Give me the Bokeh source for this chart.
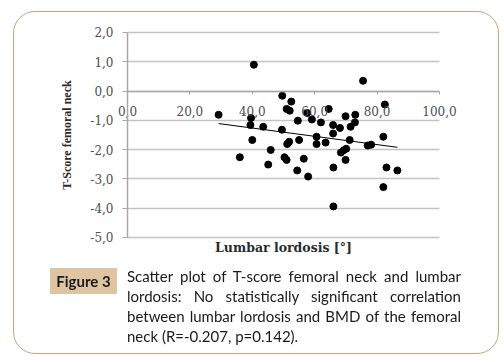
from bokeh.plotting import figure
from bokeh.models import Range1d, Label, Div, FixedTicker
from bokeh.layouts import column
from bokeh.embed import file_html
from bokeh.resources import INLINE

# Data
lordosis = [40.5, 75.5, 49.6, 52.5, 82.5, 64.5, 51.0, 52.0, 29.2, 57.6,
            69.9, 73.0, 39.6, 59.1, 54.6, 62.0, 72.9, 39.4, 43.5, 65.9,
            68.1, 71.5, 49.5, 65.9, 82.0, 60.6, 40.0, 55.0, 51.8, 51.2,
            71.2, 63.5, 60.6, 77.0, 78.1, 45.9, 70.1, 69.3, 68.4, 36.0,
            50.3, 51.0, 56.5, 69.9, 45.1, 54.4, 66.0, 83.0, 86.5, 57.9,
            82.0, 66.0]
tscore = [0.90, 0.35, -0.16, -0.36, -0.46, -0.61, -0.61, -0.67, -0.81, -0.75,
          -0.86, -0.81, -0.92, -0.97, -1.01, -1.07, -1.07, -1.16, -1.22, -1.16,
          -1.26, -1.22, -1.32, -1.45, -1.56, -1.56, -1.67, -1.67, -1.73, -1.81,
          -1.67, -1.76, -1.81, -1.86, -1.83, -2.01, -1.97, -2.02, -2.10, -2.26,
          -2.26, -2.35, -2.31, -2.35, -2.51, -2.71, -2.61, -2.61, -2.71, -2.92,
          -3.28, -3.94]
trend_x = [29.2, 86.5]
trend_y = [-1.11, -1.92]

x_min, x_max = 0, 100
y_min, y_max = -5, 2
x_ticks = [0, 20, 40, 60, 80, 100]
x_tick_labels = ["0,0", "20,0", "40,0", "60,0", "80,0", "100,0"]
y_ticks = [-5, -4, -3, -2, -1, 0, 1, 2]
y_tick_labels = ["-5,0", "-4,0", "-3,0", "-2,0", "-1,0", "0,0", "1,0", "2,0"]

x_title = "Lumbar lordosis [°]"
y_title = "T-Score femoral neck"
fig_tag = "Figure 3"
caption = ("Scatter plot of T-score femoral neck and lumbar lordosis: No statistically "
           "significant correlation between lumbar lordosis and BMD of the femoral neck "
           "(R=-0.207, p=0.142).")

# The frame covers the whole canvas; axes sit at fixed locations (Excel-style crossing at 0)
p = figure(width=484, height=250,
           x_range=Range1d(-36.54, 118.59), y_range=Range1d(-5.82, 2.717),
           output_backend="svg", toolbar_location=None,
           min_border_left=0, min_border_right=0, min_border_top=0, min_border_bottom=0)
p.border_fill_color = None
p.background_fill_color = None
p.outline_line_color = None

p.xgrid.visible = False
yg = p.ygrid[0]
yg.ticker = FixedTicker(ticks=y_ticks)
yg.grid_line_color = "#c4c4c4"
yg.grid_line_width = 1.5
yg.bounds = (y_min, y_max)
if "cross_bounds" in yg.properties():
    yg.cross_bounds = (x_min, x_max)

xa = p.xaxis[0]
xa.fixed_location = 0
xa.bounds = (x_min, x_max)
xa.ticker = FixedTicker(ticks=x_ticks)
xa.major_label_overrides = dict(zip(x_ticks, x_tick_labels))
xa.minor_tick_line_color = None
xa.major_tick_out = 3
xa.major_tick_in = 0
xa.major_label_standoff = 12
xa.axis_line_color = "#a8a8a8"
xa.axis_line_width = 1.5
xa.major_tick_line_color = "#a8a8a8"
xa.major_label_text_font = "DejaVu Serif"
xa.major_label_text_font_size = "12px"
xa.major_label_text_color = "#4d4d4d"

ya = p.yaxis[0]
ya.fixed_location = 0
ya.bounds = (y_min, y_max)
ya.ticker = FixedTicker(ticks=y_ticks)
ya.major_label_overrides = dict(zip(y_ticks, y_tick_labels))
ya.minor_tick_line_color = None
ya.major_tick_out = 5
ya.major_tick_in = 0
ya.major_label_standoff = 9
ya.axis_line_color = "#a8a8a8"
ya.axis_line_width = 1.5
ya.major_tick_line_color = "#a8a8a8"
ya.major_label_text_font = "DejaVu Serif"
ya.major_label_text_font_size = "12px"
ya.major_label_text_color = "#4d4d4d"
ya.axis_label = y_title
ya.axis_label_text_font = "Liberation Serif"
ya.axis_label_text_font_style = "bold"
ya.axis_label_text_font_size = "12px"
ya.axis_label_text_color = "#2b2b2b"
ya.axis_label_standoff = 13

p.line(trend_x, trend_y, line_color="black", line_width=1)
p.scatter(lordosis, tscore, size=7, fill_color="black", line_color="black")

p.add_layout(Label(x=(x_min + x_max) / 2, y=y_min, y_offset=-10, text=x_title,
                   text_align="center", text_baseline="middle",
                   text_font="DejaVu Serif", text_font_style="bold", text_font_size="12.5px",
                   text_color="#2b2b2b"))

html = (
    '<div style="position:fixed;left:13px;top:11px;width:486px;height:343px;box-sizing:border-box;'
    'border:1.5px solid #c9a27f;border-radius:22px;pointer-events:none;"></div>'
    '<div style="position:relative;width:484px;height:93px;font-family:Lato;">'
    '<div style="position:absolute;left:37px;top:7px;width:67px;height:26px;background:#dfc4a2;'
    'font-weight:bold;font-size:15px;line-height:26px;text-align:center;color:#1a1a1a;">'
    f'{fig_tag}</div>'
    '<div style="position:absolute;left:114px;top:5px;width:334px;font-size:15px;'
    f'line-height:20px;text-align:justify;color:#1a1a1a;">{caption}</div></div>'
)
d = Div(text=html, width=484, height=93, margin=0)

layout = column(p, d, margin=(11, 0, 0, 13))

open("out.html", "w").write(file_html(layout, INLINE))
